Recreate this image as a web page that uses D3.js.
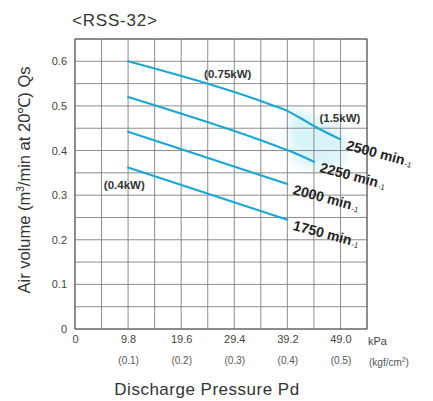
<!DOCTYPE html>
<html>
<head>
<meta charset="utf-8">
<script src="https://cdn.jsdelivr.net/npm/d3@7"></script>
<style>
  html, body { margin: 0; padding: 0; background: #fff; }
  svg { display: block; font-family: "Liberation Sans", Arial, sans-serif; }
</style>
</head>
<body>
<svg id="chart" width="433" height="401"></svg>
<script>
// Pressure ticks (kPa) and their kgf/cm² equivalents
const kpaTicks = [0, 9.8, 19.6, 29.4, 39.2, 49.0];
const kpaLabels = ["0", "9.8", "19.6", "29.4", "39.2", "49.0"];
const kgfLabels = ["", "(0.1)", "(0.2)", "(0.3)", "(0.4)", "(0.5)"];
const airTicks = [0, 0.1, 0.2, 0.3, 0.4, 0.5, 0.6];

// Air volume curves per rotation speed: [pressure kPa, Qs m³/min]
const speeds = ["2500", "2250", "2000", "1750"];
const curve2500 = [[9.8, 0.600], [36.8, 0.500], [39.2, 0.489], [41.6, 0.473], [44.1, 0.455], [49.0, 0.425]];
const curve2250 = [[9.8, 0.520], [36.8, 0.412], [39.2, 0.401], [44.1, 0.375]];
const curve2000 = [[9.8, 0.442], [39.2, 0.325]];
const curve1750 = [[9.8, 0.362], [39.2, 0.245]];
const curves = [curve2500, curve2250, curve2000, curve1750];

// Highlighted 1.5 kW motor zone
const zone15kW = [[40.0, 0.49], [45.0, 0.47], [49.5, 0.44], [49.5, 0.375], [44.5, 0.36], [40.0, 0.39]];

// Motor power labels: [text, kPa, Qs]
const powerLabels = [["(0.75kW)", 28.2, 0.563], ["(1.5kW)", 48.9, 0.463], ["(0.4kW)", 9.1, 0.314]];

const svg = d3.select("#chart");
const x = d3.scaleLinear().domain([0, 53.9]).range([75, 367]);
const y = d3.scaleLinear().domain([0, 0.65]).range([329, 39]);

const defs = svg.append("defs");
defs.append("filter").attr("id", "soft")
  .attr("x", "-50%").attr("y", "-50%").attr("width", "200%").attr("height", "200%")
  .append("feGaussianBlur").attr("stdDeviation", 6);

// Title
svg.append("text").attr("x", 72).attr("y", 26)
  .attr("font-size", 17).attr("letter-spacing", 0.8).attr("fill", "#333").text("<RSS-32>");

// Shaded zone
svg.append("path")
  .datum(zone15kW)
  .attr("d", d3.line().x(d => x(d[0])).y(d => y(d[1])).curve(d3.curveCardinalClosed))
  .attr("fill", "#c8f0f6").attr("opacity", 0.7).attr("filter", "url(#soft)");

// Grid: lines every 4.9 kPa and every 0.05 m³/min
const g = svg.append("g");
const xGrid = d3.range(0, 12).map(i => i * 4.9);
const yGrid = d3.range(0, 14).map(i => i * 0.05);
g.selectAll(".vx").data(xGrid).join("line")
  .attr("x1", d => x(d)).attr("x2", d => x(d))
  .attr("y1", y(0)).attr("y2", y(0.65))
  .attr("stroke", "#808080").attr("stroke-width", 0.9);
g.selectAll(".hy").data(yGrid).join("line")
  .attr("x1", x(0)).attr("x2", x(53.9))
  .attr("y1", d => y(d)).attr("y2", d => y(d))
  .attr("stroke", "#808080").attr("stroke-width", 0.9);
g.append("rect")
  .attr("x", x(0)).attr("y", y(0.65))
  .attr("width", x(53.9) - x(0)).attr("height", y(0) - y(0.65))
  .attr("fill", "none").attr("stroke", "#555").attr("stroke-width", 1);

const fontFam = "Liberation Sans, Arial, sans-serif";

// Y axis ticks
const yAxis = d3.axisLeft(y).tickValues(airTicks)
  .tickFormat(d => d === 0 ? "0" : d3.format(".1f")(d)).tickSize(0).tickPadding(8);
svg.append("g").attr("transform", `translate(${x(0)},0)`).call(yAxis)
  .call(s => s.select(".domain").remove())
  .call(s => s.selectAll("text").attr("font-size", 11).attr("fill", "#444")
    .attr("font-family", fontFam));

// X axis ticks (kPa)
const xAxis = d3.axisBottom(x).tickValues(kpaTicks)
  .tickFormat((d, i) => kpaLabels[i]).tickSize(0).tickPadding(6);
svg.append("g").attr("transform", `translate(0,${y(0)})`).call(xAxis)
  .call(s => s.select(".domain").remove())
  .call(s => s.selectAll("text").attr("font-size", 11).attr("fill", "#444")
    .attr("font-family", fontFam));
svg.append("text").attr("x", 368).attr("y", 345)
  .attr("font-size", 11).attr("fill", "#444").text("kPa");

// Second row: kgf/cm²
const kgfAxis = d3.axisBottom(x).tickValues(kpaTicks)
  .tickFormat((d, i) => kgfLabels[i]).tickSize(0).tickPadding(28);
svg.append("g").attr("transform", `translate(0,${y(0)})`).call(kgfAxis)
  .call(s => s.select(".domain").remove())
  .call(s => s.selectAll("text").attr("font-size", 10).attr("fill", "#555")
    .attr("font-family", fontFam));
const kgfUnit = svg.append("text").attr("x", 369).attr("y", 366)
  .attr("font-size", 10).attr("fill", "#555");
kgfUnit.append("tspan").text("(kgf/cm");
kgfUnit.append("tspan").attr("font-size", 6.5).attr("dy", -4).text("2");
kgfUnit.append("tspan").attr("dy", 4).text(")");

// Axis titles
svg.append("text").attr("x", 207).attr("y", 395).attr("text-anchor", "middle")
  .attr("font-size", 17).attr("letter-spacing", 0.5).attr("fill", "#333")
  .text("Discharge Pressure Pd");
const yt = svg.append("text")
  .attr("transform", `translate(30,180) rotate(-90)`)
  .attr("text-anchor", "middle").attr("font-size", 16.5).attr("fill", "#333");
yt.append("tspan").text("Air volume (m");
yt.append("tspan").attr("font-size", 10).attr("dy", -6).text("3");
yt.append("tspan").attr("dy", 6).text("/min at 20℃) Qs");

// Curves
const line = d3.line().x(d => x(d[0])).y(d => y(d[1])).curve(d3.curveMonotoneX);
svg.selectAll(".curve").data(curves).join("path")
  .attr("d", line).attr("fill", "none")
  .attr("stroke", "#19a8d4").attr("stroke-width", 2.1)
  .attr("stroke-linecap", "round").attr("stroke-linejoin", "round");

// Speed labels at the end of each curve
curves.forEach((c, i) => {
  const end = c[c.length - 1];
  const t = svg.append("text")
    .attr("transform", `translate(${x(end[0]) + 5},${y(end[1]) + 10}) rotate(15)`)
    .attr("font-size", 14).attr("font-weight", "bold").attr("fill", "#222");
  t.append("tspan").text(speeds[i] + " min");
  t.append("tspan").attr("font-size", 7.5).attr("font-weight", "normal")
    .attr("dx", 1).attr("dy", 1).text("-1");
});

// Motor power labels
svg.selectAll(".pw").data(powerLabels).join("text")
  .attr("x", d => x(d[1])).attr("y", d => y(d[2]))
  .attr("text-anchor", "middle")
  .attr("font-size", 11.5).attr("font-weight", "bold").attr("fill", "#333")
  .text(d => d[0]);
</script>
</body>
</html>
